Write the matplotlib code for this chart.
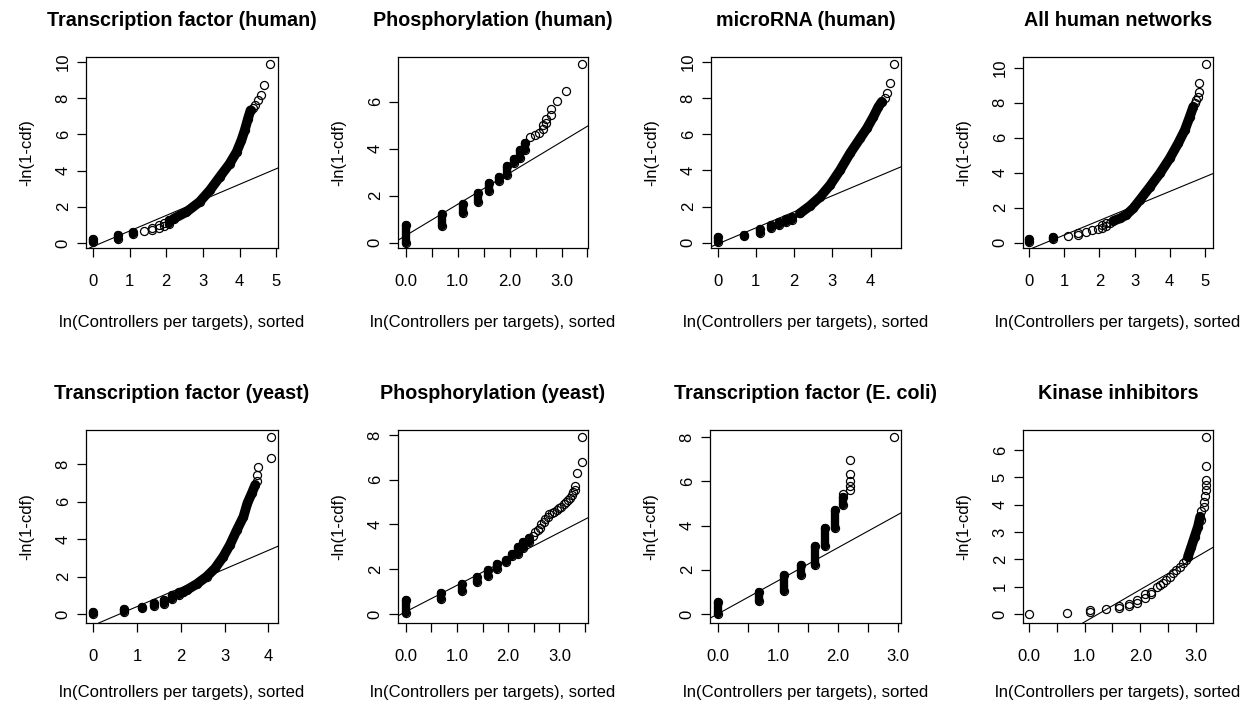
import numpy as np
import matplotlib.pyplot as plt

plt.rcParams['font.family'] = ['Liberation Sans', 'DejaVu Sans']

titles = ["Transcription factor (human)", "Phosphorylation (human)", "microRNA (human)",
          "All human networks", "Transcription factor (yeast)", "Phosphorylation (yeast)",
          "Transcription factor (E. coli)", "Kinase inhibitors"]
xlabel = "ln(Controllers per targets), sorted"
ylabel = "-ln(1-cdf)"

# 1. transcription factor (human)
tfh_bar_x = [0.0, 0.69, 1.10, 2.08]
tfh_bar_lo = [0.03, 0.2, 0.47, 1.05]
tfh_bar_hi = [0.2, 0.45, 0.62, 1.25]
tfh_curve_x = [2.2, 2.55, 2.91, 3.19, 3.46, 3.73, 3.92, 4.05, 4.14, 4.23, 4.30]
tfh_curve_y = [1.34, 1.71, 2.27, 2.91, 3.65, 4.38, 5.03, 5.67, 6.22, 6.87, 7.33]
tfh_pts_x = [1.39, 1.61, 1.61, 1.79, 1.79, 1.95, 1.95, 4.37, 4.42, 4.50, 4.58, 4.66, 4.83]
tfh_pts_y = [0.65, 0.72, 0.85, 0.85, 1.0, 0.95, 1.12, 7.45, 7.65, 7.9, 8.2, 8.75, 9.87]
tfh_fit = (-0.2, 0.86)

# 2. phosphorylation (human)
phh_bar_x = [0.0, 0.69, 1.10, 1.39, 1.61, 1.79, 1.95, 2.08, 2.20, 2.30]
phh_bar_lo = [0.0, 0.72, 1.26, 1.72, 2.18, 2.61, 2.87, 3.39, 3.6, 3.96]
phh_bar_hi = [0.74, 1.23, 1.63, 2.09, 2.54, 2.79, 3.26, 3.55, 3.93, 4.24]
phh_curve_x = []
phh_curve_y = []
phh_pts_x = [2.40, 2.48, 2.56, 2.64, 2.64, 2.71, 2.71, 2.79, 2.79, 2.92, 3.09, 3.40]
phh_pts_y = [4.5, 4.58, 4.68, 4.85, 5.0, 5.1, 5.25, 5.43, 5.7, 6.03, 6.47, 7.6]
phh_fit = (0.3, 1.33)

# 3. microRNA (human)
mir_bar_x = [0.0, 0.69, 1.10, 1.39, 1.61, 1.79, 1.95]
mir_bar_lo = [0.02, 0.37, 0.55, 0.8, 0.98, 1.15, 1.28]
mir_bar_hi = [0.31, 0.45, 0.75, 0.96, 1.14, 1.3, 1.42]
mir_curve_x = [2.15, 2.41, 2.68, 2.94, 3.2, 3.46, 3.72, 3.9, 4.07, 4.2, 4.29]
mir_curve_y = [1.62, 2.03, 2.54, 3.19, 4.01, 4.94, 5.76, 6.32, 6.96, 7.51, 7.79]
mir_pts_x = [4.37, 4.42, 4.49, 4.61]
mir_pts_y = [7.97, 8.25, 8.8, 9.87]
mir_fit = (-0.07, 0.89)

# 4. all human networks
all_bar_x = [0.0, 0.69]
all_bar_lo = [0.02, 0.22]
all_bar_hi = [0.23, 0.35]
all_curve_x = [2.4, 2.6, 2.77, 2.96, 3.15, 3.44, 3.72, 4.0, 4.24, 4.43, 4.57, 4.67]
all_curve_y = [1.25, 1.4, 1.6, 1.96, 2.44, 3.2, 3.96, 4.82, 5.68, 6.44, 7.2, 7.77]
all_pts_x = [1.10, 1.39, 1.39, 1.61, 1.79, 1.95, 2.08, 2.08, 2.2, 2.2, 2.3,
             4.72, 4.76, 4.81, 4.84, 4.84, 5.03]
all_pts_y = [0.4, 0.45, 0.55, 0.6, 0.7, 0.8, 0.85, 1.0, 0.95, 1.15, 1.1,
             8.0, 8.15, 8.35, 8.6, 9.14, 10.2]
all_fit = (-0.39, 0.83)

# 5. transcription factor (yeast)
tfy_bar_x = [0.0, 0.69, 1.10, 1.39, 1.61, 1.79, 1.95]
tfy_bar_lo = [0.0, 0.09, 0.3, 0.42, 0.55, 0.82, 1.0]
tfy_bar_hi = [0.1, 0.25, 0.4, 0.58, 0.75, 1.0, 1.15]
tfy_curve_x = [2.05, 2.13, 2.36, 2.59, 2.78, 2.97, 3.12, 3.28, 3.43, 3.52, 3.62, 3.70]
tfy_curve_y = [1.15, 1.28, 1.6, 2.0, 2.44, 3.07, 3.69, 4.49, 5.2, 5.92, 6.45, 6.9]
tfy_pts_x = [3.73, 3.75, 3.77, 4.05, 4.05]
tfy_pts_y = [7.1, 7.43, 7.88, 8.36, 9.43]
tfy_fit = (-0.6, 1.0)

# 6. phosphorylation (yeast)
phy_bar_x = [0.0, 0.69, 1.10, 1.39, 1.61, 1.79, 1.95, 2.08, 2.20, 2.30, 2.40]
phy_bar_lo = [0.04, 0.67, 1.01, 1.42, 1.68, 2.01, 2.32, 2.58, 2.7, 2.95, 3.2]
phy_bar_hi = [0.61, 0.94, 1.36, 1.65, 1.95, 2.25, 2.4, 2.7, 3.0, 3.22, 3.4]
phy_curve_x = []
phy_curve_y = []
phy_pts_x = [2.49, 2.52, 2.59, 2.62, 2.65, 2.70, 2.72, 2.77, 2.80, 2.85, 2.89, 2.95, 3.0,
             3.04, 3.09, 3.13, 3.17, 3.2, 3.24, 3.27, 3.31, 3.31, 3.34, 3.44, 3.45]
phy_pts_y = [3.5, 3.65, 3.75, 3.85, 4.0, 4.1, 4.25, 4.35, 4.45, 4.5, 4.55, 4.65, 4.75,
             4.8, 4.9, 5.0, 5.1, 5.2, 5.3, 5.45, 5.55, 5.7, 6.29, 6.81, 7.9]
phy_fit = (0.1, 1.18)

# 7. transcription factor (E. coli)
tfe_bar_x = [0.0, 0.69, 1.10, 1.39, 1.61, 1.79, 1.95, 2.08]
tfe_bar_lo = [0.02, 0.57, 1.03, 1.78, 2.23, 3.06, 3.89, 4.95]
tfe_bar_hi = [0.54, 1.0, 1.75, 2.2, 3.06, 3.91, 4.72, 5.3]
tfe_curve_x = []
tfe_curve_y = []
tfe_pts_x = [2.08, 2.20, 2.20, 2.20, 2.20, 2.20, 2.94]
tfe_pts_y = [5.45, 5.6, 5.8, 6.0, 6.35, 6.95, 8.0]
tfe_fit = (0.0, 1.5)

# 8. kinase inhibitors
kin_bar_x = []
kin_bar_lo = []
kin_bar_hi = []
kin_curve_x = [2.86, 2.92, 2.98, 3.04, 3.08]
kin_curve_y = [2.1, 2.46, 2.83, 3.2, 3.56]
kin_pts_x = [0.0, 0.69, 1.10, 1.10, 1.39, 1.61, 1.61, 1.79, 1.79, 1.95, 1.95, 2.08, 2.08, 2.2, 2.2,
             2.3, 2.35, 2.41, 2.47, 2.53, 2.59, 2.65, 2.71, 2.77, 2.82,
             3.1, 3.1, 3.14, 3.14, 3.16, 3.18, 3.18, 3.18, 3.18, 3.18]
kin_pts_y = [0.0, 0.03, 0.08, 0.13, 0.17, 0.22, 0.3, 0.3, 0.38, 0.4, 0.5, 0.6, 0.72, 0.72, 0.82,
             1.0, 1.05, 1.12, 1.25, 1.37, 1.5, 1.61, 1.72, 1.85, 1.98,
             3.45, 3.75, 3.9, 4.1, 4.3, 4.54, 4.72, 4.9, 5.4, 6.49]
kin_fit = (-1.47, 1.18)

# axis ranges and ticks
xlims = [(-0.19, 5.05), (-0.15, 3.51), (-0.17, 4.79), (-0.17, 5.23),
         (-0.17, 4.22), (-0.15, 3.56), (-0.13, 3.05), (-0.11, 3.31)]
ylims = [(-0.28, 10.28), (-0.23, 7.9), (-0.29, 10.26), (-0.3, 10.61),
         (-0.48, 9.83), (-0.4, 8.22), (-0.41, 8.33), (-0.33, 6.73)]
int_ticks5 = [0, 1, 2, 3, 4, 5]
int_ticks4 = [0, 1, 2, 3, 4]
half_ticks35 = [0.0, 0.5, 1.0, 1.5, 2.0, 2.5, 3.0, 3.5]
half_ticks30 = [0.0, 0.5, 1.0, 1.5, 2.0, 2.5, 3.0]
half_labels35 = ["0.0", "", "1.0", "", "2.0", "", "3.0", ""]
half_labels30 = ["0.0", "", "1.0", "", "2.0", "", "3.0"]
xticks = [int_ticks5, half_ticks35, int_ticks4, int_ticks5, int_ticks4, half_ticks35, half_ticks30, half_ticks30]
xticklabels = [[str(t) for t in int_ticks5], half_labels35, [str(t) for t in int_ticks4],
               [str(t) for t in int_ticks5], [str(t) for t in int_ticks4],
               half_labels35, half_labels30, half_labels30]
yticks = [[0, 2, 4, 6, 8, 10], [0, 2, 4, 6], [0, 2, 4, 6, 8, 10], [0, 2, 4, 6, 8, 10],
          [0, 2, 4, 6, 8], [0, 2, 4, 6, 8], [0, 2, 4, 6, 8], [0, 1, 2, 3, 4, 5, 6]]

panels = [
    (tfh_bar_x, tfh_bar_lo, tfh_bar_hi, tfh_curve_x, tfh_curve_y, tfh_pts_x, tfh_pts_y, tfh_fit),
    (phh_bar_x, phh_bar_lo, phh_bar_hi, phh_curve_x, phh_curve_y, phh_pts_x, phh_pts_y, phh_fit),
    (mir_bar_x, mir_bar_lo, mir_bar_hi, mir_curve_x, mir_curve_y, mir_pts_x, mir_pts_y, mir_fit),
    (all_bar_x, all_bar_lo, all_bar_hi, all_curve_x, all_curve_y, all_pts_x, all_pts_y, all_fit),
    (tfy_bar_x, tfy_bar_lo, tfy_bar_hi, tfy_curve_x, tfy_curve_y, tfy_pts_x, tfy_pts_y, tfy_fit),
    (phy_bar_x, phy_bar_lo, phy_bar_hi, phy_curve_x, phy_curve_y, phy_pts_x, phy_pts_y, phy_fit),
    (tfe_bar_x, tfe_bar_lo, tfe_bar_hi, tfe_curve_x, tfe_curve_y, tfe_pts_x, tfe_pts_y, tfe_fit),
    (kin_bar_x, kin_bar_lo, kin_bar_hi, kin_curve_x, kin_curve_y, kin_pts_x, kin_pts_y, kin_fit),
]

W, H = 1249, 706
# plot boxes in pixels: left, top, right, bottom
boxes = [(86, 57, 278, 248), (398, 57, 588, 248), (711, 57, 901, 248), (1023, 57, 1213, 248),
         (86, 430, 278, 623), (398, 430, 588, 623), (710, 430, 901, 623), (1023, 430, 1213, 623)]

fig = plt.figure(figsize=(W / 100, H / 100), dpi=100)
bar_w = 6.0    # width of a stack of overlapping circles, in points
curve_w = 7.0  # the continuous runs are a little more spread out
ms = 5.8

for i, (bx, blo, bhi, cx, cy, px, py, fit) in enumerate(panels):
    l, t, r, b = boxes[i]
    ax = fig.add_axes([l / W, 1 - b / H, (r - l) / W, (b - t) / H])
    if bx:
        ax.vlines(bx, blo, bhi, colors='black', lw=bar_w, capstyle='round')
        ax.plot(bx + bx, blo + bhi, 'o', mfc='none', mec='black', ms=ms, mew=0.9)
    if cx:
        ax.plot(cx, cy, '-', color='black', lw=curve_w, solid_capstyle='round', solid_joinstyle='round')
        ax.plot(cx, cy, 'o', mfc='none', mec='black', ms=ms, mew=0.9)
    ax.plot(px, py, 'o', mfc='none', mec='black', ms=ms, mew=0.9)
    ax.axline((0, fit[0]), slope=fit[1], color='black', lw=0.8)

    ax.set_xlim(xlims[i])
    ax.set_ylim(ylims[i])
    ax.set_xticks(xticks[i])
    ax.set_xticklabels(xticklabels[i])
    ax.set_yticks(yticks[i])
    ax.set_yticklabels([str(v) for v in yticks[i]])
    ax.tick_params(axis='both', length=6.5, width=0.9, labelsize=12, color='black')
    ax.tick_params(axis='x', pad=12.5)
    ax.tick_params(axis='y', pad=4.5)
    for lab in ax.get_yticklabels():
        lab.set_rotation(90)
        lab.set_va('center')
    for s in ax.spines.values():
        s.set_linewidth(0.9)

    ax.annotate(titles[i], xy=(0.5, 1), xycoords='axes fraction', xytext=(0, 26.6),
                textcoords='offset points', ha='center', va='center', fontsize=14.2, fontweight='bold')
    xoff = -53.3 if i < 4 else -50.4
    ax.annotate(xlabel, xy=(0.5, 0), xycoords='axes fraction', xytext=(0, xoff),
                textcoords='offset points', ha='center', va='center', fontsize=12)
    ax.annotate(ylabel, xy=(0, 0.5), xycoords='axes fraction', xytext=(-42.5, 0),
                textcoords='offset points', ha='center', va='center', fontsize=12, rotation=90)

fig.savefig('out.png', dpi=100)
